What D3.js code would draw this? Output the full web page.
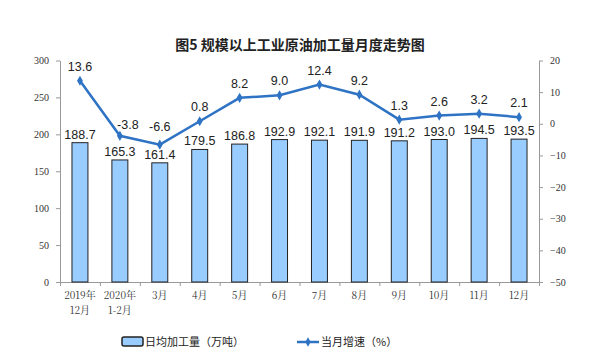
<!DOCTYPE html>
<html><head><meta charset="utf-8">
<script src="https://cdn.jsdelivr.net/npm/d3@7"></script>
<style>body{margin:0;background:#fff}svg{display:block}</style>
</head><body>
<svg id="c" width="600" height="358"></svg>
<script>
const categories = ["2019年\n12月","2020年\n1-2月","3月","4月","5月","6月","7月","8月","9月","10月","11月","12月"];
const dailyOutput = [188.7,165.3,161.4,179.5,186.8,192.9,192.1,191.9,191.2,193.0,194.5,193.5];
const growth = [13.6,-3.8,-6.6,0.8,8.2,9.0,12.4,9.2,1.3,2.6,3.2,2.1];
const leftTicks = [0,50,100,150,200,250,300];
const rightTicks = [-50,-40,-30,-20,-10,0,10,20];

const svg = d3.select("#c");
const x = d3.scaleBand().domain(categories).range([60,539]).paddingInner(0.6).paddingOuter(0.3);
const yL = d3.scaleLinear().domain([0,300]).range([282,60.5]);
const yR = d3.scaleLinear().domain([-50,20]).range([282,60.5]);
const cx = d => x(d) + x.bandwidth()/2;

svg.append("text").attr("x",300).attr("y",50).attr("text-anchor","middle")
  .attr("font-family","Noto Sans CJK SC").attr("font-weight","bold").attr("font-size",14).attr("fill","#222")
  .text("图5  规模以上工业原油加工量月度走势图");

const axisColor = "#999";
const gl = svg.append("g").attr("transform","translate(60,0)").call(d3.axisLeft(yL).tickValues(leftTicks).tickSize(4).tickSizeOuter(0));
const gr = svg.append("g").attr("transform","translate(539,0)").call(d3.axisRight(yR).tickValues(rightTicks).tickSize(4).tickSizeOuter(0));
const xb = d3.scaleLinear().domain([0,12]).range([60,539]);
const gb = svg.append("g").attr("transform","translate(0,282)").call(d3.axisBottom(xb).ticks(12).tickSize(4).tickFormat("").tickSizeOuter(0));
[gl,gr,gb].forEach(g=>{
  g.selectAll("path,line").attr("stroke",axisColor);
  g.selectAll("text").attr("font-family","Liberation Serif").attr("font-size",10).attr("fill","#333");
});
gl.selectAll("text").attr("dx",-4);
gr.selectAll("text").attr("dx",4);

categories.forEach(c=>{
  const lines = c.split("\n");
  const t = svg.append("text").attr("x",cx(c)).attr("y",299).attr("text-anchor","middle")
    .attr("font-family","Noto Serif CJK SC, Noto Sans CJK SC").attr("font-size",10).attr("fill","#333");
  lines.forEach((l,i)=>t.append("tspan").attr("x",cx(c)).attr("dy",i?15:0).text(l));
});

svg.append("g").selectAll("rect").data(categories).join("rect")
  .attr("x",d=>x(d)).attr("width",x.bandwidth())
  .attr("y",(d,i)=>yL(dailyOutput[i])).attr("height",(d,i)=>282-yL(dailyOutput[i]))
  .attr("fill","#99ccff").attr("stroke","#222").attr("stroke-width",1);
svg.append("g").selectAll("text").data(categories).join("text")
  .attr("x",d=>cx(d)).attr("y",(d,i)=>yL(dailyOutput[i])-4).attr("text-anchor","middle")
  .attr("font-family","Liberation Sans").attr("font-size",12.5).attr("fill","#222")
  .text((d,i)=>dailyOutput[i].toFixed(1));

const lineColor = "#2f73c4";
const line = d3.line().x((d,i)=>cx(categories[i])).y(d=>yR(d));
svg.append("path").datum(growth).attr("d",line).attr("fill","none").attr("stroke",lineColor).attr("stroke-width",2.5);
svg.append("g").selectAll("path").data(growth).join("path")
  .attr("d",d3.symbol(d3.symbolDiamond,30)).attr("fill",lineColor)
  .attr("transform",(d,i)=>`translate(${cx(categories[i])},${yR(d)})`);
const lblDx = i => i===1 ? 8 : 0;
const lblDy = i => i===1 ? 7 : (i===2 ? 14 : 10);
svg.append("g").selectAll("text").data(growth).join("text")
  .attr("x",(d,i)=>cx(categories[i])+lblDx(i)).attr("y",(d,i)=>yR(d)-lblDy(i)).attr("text-anchor","middle")
  .attr("font-family","Liberation Sans").attr("font-size",12.5).attr("fill","#222")
  .text(d=>d.toFixed(1));

svg.append("rect").attr("x",122).attr("y",337).attr("width",21).attr("height",9).attr("rx",2)
  .attr("fill","#99ccff").attr("stroke","#222").attr("stroke-width",1.5);
svg.append("text").attr("x",145).attr("y",346).attr("font-family","Noto Sans CJK SC").attr("font-size",11).attr("fill","#222").text("日均加工量（万吨）");
svg.append("line").attr("x1",297).attr("x2",319).attr("y1",342).attr("y2",342).attr("stroke",lineColor).attr("stroke-width",2.5);
svg.append("path").attr("d",d3.symbol(d3.symbolDiamond,25)).attr("fill",lineColor).attr("transform","translate(308,342)");
svg.append("text").attr("x",321).attr("y",346).attr("font-family","Noto Sans CJK SC").attr("font-size",11).attr("fill","#222").text("当月增速（%）");
</script>
</body></html>
